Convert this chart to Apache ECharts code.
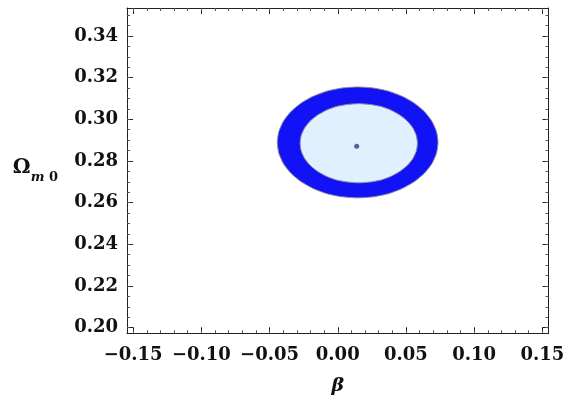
<!DOCTYPE html>
<html>
<head>
<meta charset="utf-8">
<script src="https://cdn.jsdelivr.net/npm/echarts@6/dist/echarts.min.js"></script>
<style>html,body{margin:0;padding:0;background:#fff}#c{width:572px;height:402px}</style>
</head>
<body>
<div id="c"></div>
<script>
// Tick positions and labels
const xTicks = [-0.15, -0.10, -0.05, 0.00, 0.05, 0.10, 0.15];
const xTickLabels = ['\u22120.15', '\u22120.10', '\u22120.05', '0.00', '0.05', '0.10', '0.15'];
const xMinor = [-0.15,-0.14,-0.13,-0.12,-0.11,-0.10,-0.09,-0.08,-0.07,-0.06,-0.05,-0.04,-0.03,-0.02,-0.01,0.00,
                0.01,0.02,0.03,0.04,0.05,0.06,0.07,0.08,0.09,0.10,0.11,0.12,0.13,0.14,0.15];
const yTicks = [0.20, 0.22, 0.24, 0.26, 0.28, 0.30, 0.32, 0.34];
const yTickLabels = ['0.20', '0.22', '0.24', '0.26', '0.28', '0.30', '0.32', '0.34'];
const yMinor = [0.200,0.205,0.210,0.215,0.220,0.225,0.230,0.235,0.240,0.245,0.250,0.255,0.260,0.265,0.270,0.275,
                0.280,0.285,0.290,0.295,0.300,0.305,0.310,0.315,0.320,0.325,0.330,0.335,0.340,0.345,0.350];

// Outer contour (2 sigma) boundary: beta and Omega_m0
const outerBeta  = [0.0735, 0.0724, 0.0690, 0.0635, 0.0562, 0.0473, 0.0372, 0.0261, 0.0146, 0.0031, -0.0080, -0.0181,
                    -0.0270, -0.0343, -0.0398, -0.0432, -0.0443, -0.0432, -0.0398, -0.0343, -0.0270, -0.0181, -0.0080, 0.0031,
                    0.0146, 0.0261, 0.0372, 0.0473, 0.0562, 0.0635, 0.0690, 0.0724];
const outerOmega = [0.2889, 0.2941, 0.2991, 0.3037, 0.3077, 0.3110, 0.3135, 0.3150, 0.3155, 0.3150, 0.3135, 0.3110,
                    0.3077, 0.3037, 0.2991, 0.2941, 0.2889, 0.2837, 0.2787, 0.2741, 0.2701, 0.2668, 0.2643, 0.2628,
                    0.2623, 0.2628, 0.2643, 0.2668, 0.2701, 0.2741, 0.2787, 0.2837];
// Inner contour (1 sigma)
const innerBeta  = [0.0584, 0.0576, 0.0551, 0.0511, 0.0458, 0.0393, 0.0319, 0.0238, 0.0154, 0.0070, -0.0011, -0.0085,
                    -0.0150, -0.0203, -0.0243, -0.0268, -0.0276, -0.0268, -0.0243, -0.0203, -0.0150, -0.0085, -0.0011, 0.0070,
                    0.0154, 0.0238, 0.0319, 0.0393, 0.0458, 0.0511, 0.0551, 0.0576];
const innerOmega = [0.2885, 0.2922, 0.2958, 0.2991, 0.3019, 0.3043, 0.3061, 0.3071, 0.3075, 0.3071, 0.3061, 0.3043,
                    0.3019, 0.2991, 0.2958, 0.2922, 0.2885, 0.2848, 0.2812, 0.2779, 0.2751, 0.2727, 0.2709, 0.2699,
                    0.2695, 0.2699, 0.2709, 0.2727, 0.2751, 0.2779, 0.2812, 0.2848];
// Best fit point
const bestFit = [0.0139, 0.2870];

const FONT = 'DejaVu Serif';
function fmt(ticks, labels) {
  return function (v) {
    for (let i = 0; i < ticks.length; i++) if (Math.abs(v - ticks[i]) < 1e-9) return labels[i];
    return '';
  };
}
const XMIN = -0.1545, XMAX = 0.1545, YMIN = 0.1973, YMAX = 0.3534;
const lineStyle = { color: '#222', width: 1 };

function xAx(pos, major, labels) {
  return {
    type: 'value', position: pos, min: XMIN, max: XMAX, gridIndex: 0,
    splitLine: { show: false },
    axisLine: { show: major, onZero: false, lineStyle: lineStyle },
    axisTick: { show: true, inside: true, length: major ? 6 : 3, customValues: major ? xTicks : xMinor, lineStyle: { color: major ? '#222' : '#555', width: 1 } },
    axisLabel: labels ? { show: true, customValues: xTicks, formatter: fmt(xTicks, xTickLabels), fontFamily: FONT, fontWeight: 'bold', fontSize: 18, color: '#111', margin: 13 } : { show: false },
    name: labels ? '{b|\u03B2}' : '', nameLocation: 'middle', nameGap: 43,
    nameTextStyle: { rich: { b: { fontFamily: FONT, fontStyle: 'italic', fontWeight: 'bold', fontSize: 19, color: '#111' } } }
  };
}
function yAx(pos, major, labels) {
  return {
    type: 'value', position: pos, min: YMIN, max: YMAX, gridIndex: 0,
    splitLine: { show: false },
    axisLine: { show: major, onZero: false, lineStyle: lineStyle },
    axisTick: { show: true, inside: true, length: major ? 6 : 3, customValues: major ? yTicks : yMinor, lineStyle: { color: major ? '#222' : '#555', width: 1 } },
    axisLabel: labels ? { show: true, customValues: yTicks, formatter: fmt(yTicks, yTickLabels), fontFamily: FONT, fontWeight: 'bold', fontSize: 18, color: '#111', margin: 9 } : { show: false },
    name: labels ? '{o|\u03A9}{m|m}{z| 0}' : '', nameLocation: 'middle', nameRotate: 0, nameGap: 69,
    nameTextStyle: { align: 'right', rich: {
      o: { fontFamily: FONT, fontWeight: 'bold', fontSize: 20, color: '#111', lineHeight: 26, verticalAlign: 'top' },
      m: { fontFamily: FONT, fontWeight: 'bold', fontStyle: 'italic', fontSize: 13, color: '#111', lineHeight: 26, verticalAlign: 'bottom' },
      z: { fontFamily: FONT, fontWeight: 'bold', fontSize: 13, color: '#111', lineHeight: 26, verticalAlign: 'bottom' }
    } }
  };
}

function polySeries(bx, oy, fill, z) {
  return {
    type: 'custom', xAxisIndex: 0, yAxisIndex: 0, z: z,
    data: [0],
    renderItem: function (params, api) {
      const pts = bx.map(function (b, i) { return api.coord([b, oy[i]]); });
      return { type: 'polygon', shape: { points: pts, smooth: 0.2 },
               style: { fill: fill, stroke: '#8a8a9a', lineWidth: 1 } };
    }
  };
}

const chart = echarts.init(document.getElementById('c'), null, { renderer: 'canvas' });
chart.setOption({
  animation: false,
  backgroundColor: '#ffffff',
  grid: { left: 127, right: 23.5, top: 8, bottom: 68.7, containLabel: false },
  xAxis: [xAx('bottom', true, true), xAx('bottom', false, false), xAx('top', true, false), xAx('top', false, false)],
  yAxis: [yAx('left', true, true), yAx('left', false, false), yAx('right', true, false), yAx('right', false, false)],
  series: [
    polySeries(outerBeta, outerOmega, '#1212f6', 2),
    polySeries(innerBeta, innerOmega, '#e1f0ff', 3),
    { type: 'scatter', xAxisIndex: 0, yAxisIndex: 0, z: 4, symbolSize: 5, itemStyle: { color: '#3a3a8c' }, data: [bestFit] }
  ]
});
</script>
</body>
</html>
